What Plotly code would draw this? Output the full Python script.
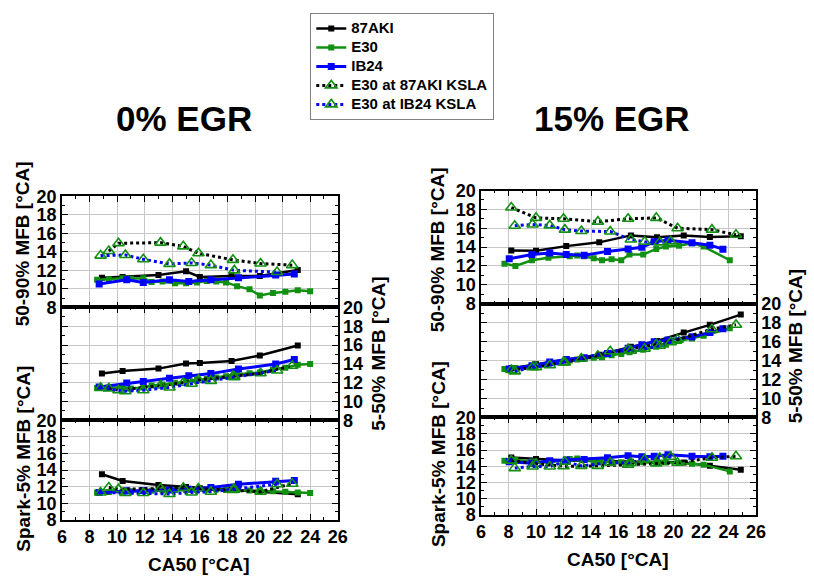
import plotly.graph_objects as go

# ---------------- data: 0% EGR (left) ----------------
L_AKI_x = [8.9, 10.4, 13.0, 15.0, 16.0, 18.3, 20.35, 23.1]
L_AKI_top = [11.2, 11.3, 11.5, 11.9, 11.3, 11.4, 11.4, 12.05]
L_AKI_mid = [12.97, 13.24, 13.5, 14.05, 14.1, 14.3, 14.9, 15.95]
L_AKI_bot = [13.5, 12.7, 12.2, 11.95, 11.8, 11.6, 11.4, 11.1]

L_E30_x = [8.55, 9.4, 10.4, 11.0, 11.9, 12.5, 13.3, 14.2, 15.0, 15.8, 16.5, 17.2, 17.9, 18.7, 19.6, 20.35, 21.3, 22.2, 23.1, 24.0]
L_E30_top = [10.98, 11.05, 11.15, 11.1, 11.15, 10.75, 10.8, 10.6, 10.6, 10.7, 10.85, 10.8, 10.7, 10.3, 9.95, 9.3, 9.55, 9.7, 9.85, 9.75]
L_E30_mid = [11.45, 11.5, 11.45, 11.4, 11.5, 11.7, 11.8, 12.0, 12.2, 12.3, 12.4, 12.55, 12.7, 12.9, 13.0, 13.1, 13.4, 13.6, 13.9, 14.0]
L_E30_bot = [11.3, 11.35, 11.4, 11.45, 11.5, 11.5, 11.55, 11.6, 11.6, 11.6, 11.65, 11.65, 11.6, 11.6, 11.55, 11.5, 11.45, 11.4, 11.3, 11.25]

L_IB24_x = [8.7, 10.7, 11.9, 13.8, 15.2, 16.8, 18.8, 21.5, 22.85]
L_IB24_top = [10.54, 10.98, 10.7, 10.98, 10.8, 10.98, 11.2, 11.5, 11.6]
L_IB24_mid = [11.55, 11.96, 12.13, 12.47, 12.74, 12.97, 13.45, 13.99, 14.46]
L_IB24_bot = [11.31, 11.5, 11.55, 11.6, 11.7, 11.9, 12.3, 12.65, 12.75]

L_KA_x = [9.4, 10.1, 13.15, 14.8, 15.9, 18.4, 20.4, 22.7]
L_KA_top = [14.1, 14.93, 15.0, 14.6, 13.85, 13.14, 12.74, 12.57]
L_KA_mid = [11.4, 11.2, 11.7, 12.0, 12.3, 12.7, 13.0, 13.8]
L_KA_bot = [11.9, 11.7, 11.78, 11.86, 11.78, 11.6, 11.4, 12.36]

L_KB_x = [8.8, 10.6, 11.9, 13.8, 15.4, 16.8, 18.5, 21.6]
L_KB_top = [13.6, 13.66, 13.2, 12.7, 12.8, 12.57, 12.0, 11.82]
L_KB_mid = [11.45, 11.1, 11.2, 11.5, 11.9, 12.2, 12.6, 13.3]
L_KB_bot = [11.3, 11.24, 11.24, 11.12, 11.31, 11.4, 11.7, 12.3]

# ---------------- data: 15% EGR (right) ----------------
R_AKI_x = [8.2, 10.0, 12.2, 14.6, 16.9, 18.8, 20.75, 22.65, 24.9]
R_AKI_top = [13.64, 13.6, 14.1, 14.5, 15.24, 15.03, 15.24, 15.07, 15.14]
R_AKI_mid = [13.2, 13.6, 14.1, 14.6, 15.44, 16.05, 16.94, 17.76, 18.84]
R_AKI_bot = [15.08, 14.88, 14.7, 14.64, 14.56, 14.5, 14.45, 14.05, 13.57]

R_E30_x = [7.7, 8.5, 9.7, 10.9, 12.45, 13.0, 13.5, 14.2, 14.8, 15.5, 16.2, 16.8, 17.8, 18.75, 19.45, 20.4, 21.35, 22.2, 24.1]
R_E30_top = [12.24, 12.0, 12.6, 12.86, 13.03, 13.1, 13.03, 12.8, 12.6, 12.7, 12.6, 13.2, 13.2, 13.8, 14.05, 14.15, 14.4, 14.05, 12.6]
R_E30_mid = [13.1, 13.2, 13.33, 13.67, 14.0, 14.1, 14.2, 14.29, 14.35, 14.56, 14.7, 14.86, 15.14, 15.44, 15.65, 16.05, 16.33, 16.6, 17.4]
R_E30_bot = [14.68, 14.76, 14.6, 14.44, 14.88, 14.96, 14.8, 14.56, 14.6, 14.5, 14.5, 14.4, 14.5, 14.5, 14.45, 14.4, 14.3, 14.2, 13.37]

R_IB24_x = [8.05, 9.7, 11.0, 12.2, 13.5, 15.2, 16.7, 17.7, 18.6, 19.6, 21.35, 22.65, 23.6]
R_IB24_top = [12.76, 13.2, 13.37, 13.2, 13.13, 13.54, 13.8, 13.98, 14.56, 14.73, 14.46, 14.2, 13.78]
R_IB24_mid = [13.1, 13.44, 13.84, 14.1, 14.29, 14.73, 15.3, 15.65, 15.99, 16.16, 16.5, 16.94, 17.35]
R_IB24_bot = [14.56, 14.37, 14.68, 14.76, 14.84, 15.04, 15.28, 15.16, 15.24, 15.42, 15.24, 15.16, 15.24]

R_KA_x = [8.2, 10.0, 12.0, 14.5, 16.7, 18.75, 20.3, 22.8, 24.55]
R_KA_top = [18.2, 17.1, 17.0, 16.7, 17.0, 17.1, 16.0, 15.85, 15.3]
R_KA_mid = [13.0, 13.3, 13.8, 14.5, 15.2, 15.7, 16.2, 17.3, 17.76]
R_KA_bot = [14.7, 14.3, 14.0, 14.05, 14.2, 14.36, 14.44, 15.04, 15.24]

R_KB_x = [8.45, 9.75, 11.0, 12.1, 13.3, 15.4, 16.9, 17.9, 19.0, 19.8]
R_KB_top = [16.26, 16.4, 16.3, 15.85, 15.7, 15.65, 14.8, 14.56, 14.5, 14.6]
R_KB_mid = [12.86, 13.3, 13.5, 13.8, 14.2, 14.97, 15.03, 15.24, 15.55, 15.92]
R_KB_bot = [13.77, 13.97, 13.97, 14.56, 14.05, 14.44, 14.44, 14.84, 15.04, 15.16]

SERIES_NAMES = ["87AKI", "E30", "IB24", "E30 at 87AKI KSLA", "E30 at IB24 KSLA"]
Y_TICKS = [8, 10, 12, 14, 16, 18, 20]
X_TICKS = [6, 8, 10, 12, 14, 16, 18, 20, 22, 24, 26]

# ---------------- styling ----------------
W, H = 814, 582
GREEN = "#129012"
BLACK = "#000000"
BLUE = "#0000ff"
FONT = "Liberation Sans, Arial, sans-serif"

styles = {
    "87AKI": dict(mode="lines+markers", line=dict(color=BLACK, width=2.5),
                  marker=dict(symbol="square", size=6, color=BLACK)),
    "E30": dict(mode="lines+markers", line=dict(color=GREEN, width=2.5),
                marker=dict(symbol="square", size=6, color=GREEN)),
    "IB24": dict(mode="lines+markers", line=dict(color=BLUE, width=3),
                 marker=dict(symbol="square", size=7, color=BLUE)),
    "E30 at 87AKI KSLA": dict(mode="lines+markers", line=dict(color=BLACK, width=3, dash="dot"),
                              marker=dict(symbol="triangle-up-open", size=10, color=GREEN,
                                          line=dict(color=GREEN, width=1.6))),
    "E30 at IB24 KSLA": dict(mode="lines+markers", line=dict(color=BLUE, width=3, dash="dot"),
                             marker=dict(symbol="triangle-up-open", size=10, color=GREEN,
                                         line=dict(color=GREEN, width=1.6))),
}

def px_x(p):
    return p / W

def px_y(p):
    return 1 - p / H

# panels: (axis index, x-domain px, y-domain px (top,bottom), y label side, show x labels)
LX = (58, 339)
RX = (485, 765)
panels = [
    (1, LX, (193, 308), "left", False),
    (2, LX, (308, 425), "right", False),
    (3, LX, (425, 528), "left", True),
    (4, RX, (187, 304), "left", False),
    (5, RX, (304, 422), "right", False),
    (6, RX, (422, 523), "left", True),
]

panel_data = {
    1: [(L_AKI_x, L_AKI_top), (L_E30_x, L_E30_top), (L_IB24_x, L_IB24_top), (L_KA_x, L_KA_top), (L_KB_x, L_KB_top)],
    2: [(L_AKI_x, L_AKI_mid), (L_E30_x, L_E30_mid), (L_IB24_x, L_IB24_mid), (L_KA_x, L_KA_mid), (L_KB_x, L_KB_mid)],
    3: [(L_AKI_x, L_AKI_bot), (L_E30_x, L_E30_bot), (L_IB24_x, L_IB24_bot), (L_KA_x, L_KA_bot), (L_KB_x, L_KB_bot)],
    4: [(R_AKI_x, R_AKI_top), (R_E30_x, R_E30_top), (R_IB24_x, R_IB24_top), (R_KA_x, R_KA_top), (R_KB_x, R_KB_top)],
    5: [(R_AKI_x, R_AKI_mid), (R_E30_x, R_E30_mid), (R_IB24_x, R_IB24_mid), (R_KA_x, R_KA_mid), (R_KB_x, R_KB_mid)],
    6: [(R_AKI_x, R_AKI_bot), (R_E30_x, R_E30_bot), (R_IB24_x, R_IB24_bot), (R_KA_x, R_KA_bot), (R_KB_x, R_KB_bot)],
}

fig = go.Figure()
layout = {}
tickfont = dict(family=FONT, size=18, color="black", weight="bold")

for idx, xd, yd, yside, showx in panels:
    sfx = "" if idx == 1 else str(idx)
    common = dict(showline=True, linecolor="black", linewidth=1.5, mirror="allticks",
                  ticks="inside", ticklen=6, tickwidth=1.2, tickcolor="black",
                  showgrid=True, gridcolor="#c8c8c8", gridwidth=1, zeroline=False,
                  tickfont=tickfont,
                  minor=dict(ticks="inside", ticklen=3, tickwidth=1, tickcolor="black", dtick=1, showgrid=False))
    layout["xaxis" + sfx] = dict(domain=[px_x(xd[0]), px_x(xd[1])], range=[6, 26],
                                 tickvals=X_TICKS, anchor="y" + sfx, showticklabels=showx, **common)
    layout["yaxis" + sfx] = dict(domain=[px_y(yd[1]), px_y(yd[0])], range=[8, 20],
                                 tickvals=Y_TICKS, anchor="x" + sfx, side=yside, **common)
    for name, (xs, ys) in zip(SERIES_NAMES, panel_data[idx]):
        # legend row height follows legend.font.size (12px); the visible text is styled larger
        label = '<span style="font-size:15px">' + name + '</span>'
        fig.add_trace(go.Scatter(x=xs, y=ys, name=label, legendgroup=name,
                                 showlegend=(idx == 1), xaxis="x" + sfx, yaxis="y" + sfx,
                                 **styles[name]))

titlefont = dict(family=FONT, size=19, color="black", weight="bold")
annots = [
    dict(text="0% EGR", x=px_x(182), y=px_y(112), font=dict(family=FONT, size=35, color="black", weight="bold")),
    dict(text="15% EGR", x=px_x(618), y=px_y(112), font=dict(family=FONT, size=35, color="black", weight="bold")),
    dict(text="50-90% MFB [°CA]", x=px_x(18), y=px_y(242), textangle=-90, font=titlefont),
    dict(text="5-50% MFB [°CA]", x=px_x(381), y=px_y(356), textangle=-90, font=titlefont),
    dict(text="Spark-5% MFB [°CA]", x=px_x(18), y=px_y(465), textangle=-90, font=titlefont),
    dict(text="50-90% MFB [°CA]", x=px_x(441), y=px_y(248), textangle=-90, font=titlefont),
    dict(text="5-50% MFB [°CA]", x=px_x(805), y=px_y(348), textangle=-90, font=titlefont),
    dict(text="Spark-5% MFB [°CA]", x=px_x(441), y=px_y(460), textangle=-90, font=titlefont),
    dict(text="CA50 [°CA]", x=px_x(198), y=px_y(574), font=titlefont),
    dict(text="CA50 [°CA]", x=px_x(624), y=px_y(569), font=titlefont),
]
for a in annots:
    a.update(xref="paper", yref="paper", showarrow=False, xanchor="center", yanchor="middle")

fig.update_layout(
    width=W, height=H, autosize=False,
    margin=dict(l=0, r=0, t=0, b=0),
    paper_bgcolor="white", plot_bgcolor="white",
    font=dict(family=FONT, color="black"),
    showlegend=True,
    legend=dict(x=px_x(311), y=px_y(3), xanchor="left", yanchor="top",
                bordercolor="#808080", borderwidth=1, bgcolor="white",
                font=dict(family=FONT, size=12, color="black", weight="bold"),
                tracegroupgap=0, itemwidth=30),
    annotations=annots,
    **layout,
)

fig.write_html("out.html")
